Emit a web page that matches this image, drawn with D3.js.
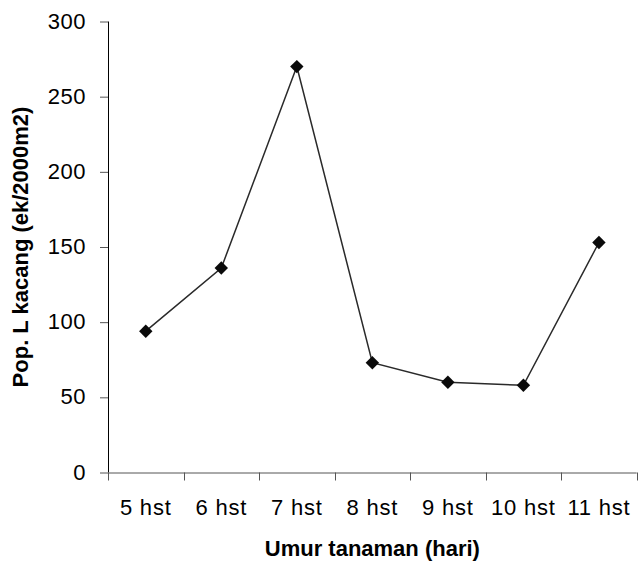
<!DOCTYPE html>
<html>
<head>
<meta charset="utf-8">
<script src="https://cdn.jsdelivr.net/npm/d3@7"></script>
<style>
  html, body { margin: 0; padding: 0; background: #fff; }
  svg { display: block; }
  text { font-family: "Liberation Sans", Arial, sans-serif; fill: #000; }
</style>
</head>
<body>
<svg id="chart" width="639" height="564"></svg>
<script>
const categories = ["5 hst", "6 hst", "7 hst", "8 hst", "9 hst", "10 hst", "11 hst"];
const values = [94, 136, 270, 73, 60, 58, 153];
const yTicks = [0, 50, 100, 150, 200, 250, 300];
const xTitle = "Umur tanaman (hari)";
const yTitle = "Pop. L kacang (ek/2000m2)";

const svg = d3.select("#chart");
const pLeft = 108, pRight = 636.7, pTop = 21.5, pBottom = 472.5;

const x = d3.scaleBand().domain(categories).range([pLeft, pRight]).padding(0);
const y = d3.scaleLinear().domain([0, 300]).range([pBottom, pTop]);

// Y axis
const yAxis = svg.append("g").attr("transform", `translate(${pLeft},0)`)
  .call(d3.axisLeft(y).tickValues(yTicks).tickSize(8).tickPadding(14).tickFormat(d3.format("d")));
yAxis.select(".domain").attr("stroke", "#000").attr("stroke-width", 1).attr("d", `M0.5,${pTop}V${pBottom}`);
yAxis.selectAll(".tick line").attr("stroke", "#555").attr("stroke-width", 1);
yAxis.selectAll(".tick text").style("font-size", "22px").attr("dy", "0.3em").style("letter-spacing", "0.5px");

// X axis
const xAxis = svg.append("g").attr("transform", `translate(0,${pBottom})`)
  .call(d3.axisBottom(x).tickSize(0).tickPadding(0));
xAxis.select(".domain").attr("stroke", "#555").attr("stroke-width", 1).attr("d", `M${pLeft},0.5H${pRight}`);
xAxis.selectAll(".tick text").style("font-size", "22px").attr("y", 42.5).attr("dy", 0).style("letter-spacing", "0.8px");
// boundary tick marks between categories
const bounds = categories.map(c => x(c)).concat([x(categories[categories.length - 1]) + x.bandwidth()]);
xAxis.selectAll(".bound").data(bounds).enter().append("line")
  .attr("x1", d => Math.round(d) + 0.5).attr("x2", d => Math.round(d) + 0.5)
  .attr("y1", 0).attr("y2", 8).attr("stroke", "#555").attr("stroke-width", 1);

// Line
const cx = c => x(c) + x.bandwidth() / 2;
const data = categories.map((c, i) => ({ c, v: values[i] }));
svg.append("path").datum(data)
  .attr("fill", "none").attr("stroke", "#2a2a2a").attr("stroke-width", 1.5)
  .attr("d", d3.line().x(d => cx(d.c)).y(d => y(d.v)));

// Markers
svg.selectAll(".pt").data(data).enter().append("path")
  .attr("d", d3.symbol().type(d3.symbolSquare).size(90))
  .attr("transform", d => `translate(${cx(d.c)},${y(d.v)}) rotate(45)`)
  .attr("fill", "#0a0a0a");

// Titles
svg.append("text").attr("x", (pLeft + pRight) / 2).attr("y", 556)
  .attr("text-anchor", "middle").style("font-size", "22px").style("font-weight", "bold")
  .text(xTitle);
svg.append("text").attr("transform", `translate(28,${(pTop + pBottom) / 2}) rotate(-90)`)
  .attr("text-anchor", "middle").style("font-size", "22px").style("font-weight", "bold")
  .text(yTitle);
</script>
</body>
</html>
